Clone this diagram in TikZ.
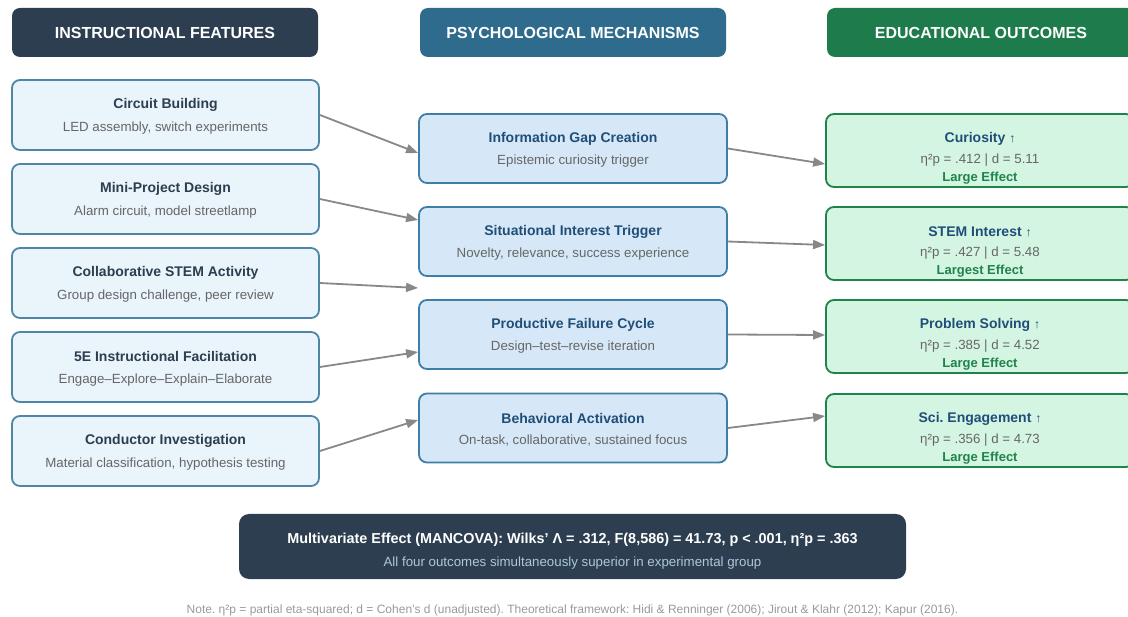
\documentclass[tikz,border=0pt]{standalone}
\usepackage{fontspec}
\setmainfont{Liberation Sans}
\frenchspacing
\usetikzlibrary{arrows.meta,calc}
\definecolor{navy}{HTML}{2C3E50}
\definecolor{steel}{HTML}{2E6B8C}
\definecolor{forest}{HTML}{1E7B4C}
\definecolor{lfill}{HTML}{EAF4FB}
\definecolor{lborder}{HTML}{4E86A8}
\definecolor{mfill}{HTML}{D6E8F7}
\definecolor{mborder}{HTML}{3F7EA6}
\definecolor{rfill}{HTML}{D5F5E3}
\definecolor{rborder}{HTML}{1E8449}
\definecolor{mtitle}{HTML}{1F4E79}
\definecolor{subgray}{HTML}{666666}
\definecolor{arrowgray}{HTML}{888888}
\definecolor{botsub}{HTML}{AEC6DC}
\definecolor{notegray}{HTML}{999999}
\begin{document}
\begin{tikzpicture}[x=1pt,y=-1pt,
  hdr/.style={rounded corners=8pt, minimum width=306pt, minimum height=49pt, text=white, font=\bfseries\fontsize{16}{18}\selectfont, inner sep=0pt},
  lbox/.style={draw=lborder, line width=1.8pt, fill=lfill, rounded corners=8pt, minimum width=307pt, minimum height=70pt, inner sep=0pt},
  mbox/.style={draw=mborder, line width=1.8pt, fill=mfill, rounded corners=8pt, minimum width=308pt, minimum height=69pt, inner sep=0pt},
  rbox/.style={draw=rborder, line width=1.8pt, fill=rfill, rounded corners=8pt, minimum width=308pt, minimum height=73pt, inner sep=0pt},
  ltitle/.style={font=\bfseries\fontsize{14}{16}\selectfont, text=navy, inner sep=0pt},
  mtitlest/.style={font=\bfseries\fontsize{14}{16}\selectfont, text=mtitle, inner sep=0pt},
  subt/.style={font=\fontsize{13.3}{15}\selectfont, text=subgray, inner sep=0pt},
  efft/.style={font=\bfseries\fontsize{13}{15}\selectfont, text=rborder, inner sep=0pt},
  conn/.style={draw=arrowgray, line width=1.8pt, -{Triangle[length=12pt,width=9pt]}}
]
\useasboundingbox (0,0) rectangle (1128,617);
\clip (0,0) rectangle (1128,617);

% headers
\node[hdr, fill=navy] (h1) at (165,32.5) {INSTRUCTIONAL FEATURES};
\node[hdr, fill=steel] (h2) at (573,32.5) {PSYCHOLOGICAL MECHANISMS};
\node[hdr, fill=forest, minimum width=308pt] (h3) at (981,32.5) {EDUCATIONAL OUTCOMES};

% left boxes
\foreach \n/\y/\t/\s in {l1/115/Circuit Building/{LED assembly, switch experiments},
  l2/199/Mini-Project Design/{Alarm circuit, model streetlamp},
  l3/283/Collaborative STEM Activity/{Group design challenge, peer review},
  l4/367/5E Instructional Facilitation/{Engage–Explore–Explain–Elaborate},
  l5/451/Conductor Investigation/{Material classification, hypothesis testing}}{
  \node[lbox] (\n) at (165.5,\y) {};
  \node[ltitle] (\n t) at ($(\n.center)+(0,-10.5)$) {\t};
  \node[subt] (\n s) at ($(\n.center)+(0,13.5)$) {\s};
}

% middle boxes
\foreach \n/\y/\t/\s in {m1/148.5/Information Gap Creation/{Epistemic curiosity trigger},
  m2/241.5/Situational Interest Trigger/{Novelty, relevance, success experience},
  m3/334.5/Productive Failure Cycle/{Design–test–revise iteration},
  m4/428/Behavioral Activation/{On-task, collaborative, sustained focus}}{
  \node[mbox] (\n) at (573,\y) {};
  \node[mtitlest] (\n t) at ($(\n.center)+(0,-10)$) {\t};
  \node[subt] (\n s) at ($(\n.center)+(0,13)$) {\s};
}

% right boxes
\foreach \n/\y/\t/\s/\e in {r1/150.5/Curiosity/{η²p = .412 | d = 5.11}/Large Effect,
  r2/243.5/STEM Interest/{η²p = .427 | d = 5.48}/Largest Effect,
  r3/336.5/Problem Solving/{η²p = .385 | d = 4.52}/Large Effect,
  r4/430.5/Sci. Engagement/{η²p = .356 | d = 4.73}/Large Effect}{
  \node[rbox] (\n) at (980,\y) {};
  \node[mtitlest] (\n t) at ($(\n.center)+(0,-12)$) {\t\ {\mdseries\fontsize{12}{13}\selectfont ↑}};
  \node[subt] (\n s) at ($(\n.center)+(0,9.5)$) {\s};
  \node[efft] (\n e) at ($(\n.center)+(0,27.5)$) {\e};
}

% connectors
\coordinate (gap) at ($(m2.west)!0.5!(m3.west)$);
\draw[conn] (l1.east) -- ($(m1.west)+(0,4.5)$);
\draw[conn] (l2.east) -- ($(m2.west)+(0,-21.5)$);
\draw[conn] (l3.east) -- (gap);
\draw[conn] (l4.east) -- ($(m3.west)+(0,17.5)$);
\draw[conn] (l5.east) -- ($(m4.west)+(0,-8)$);
\draw[conn] (m1.east) -- ($(r1.west)+(0,13.5)$);
\draw[conn] (m2.east) -- ($(r2.west)+(0,1.5)$);
\draw[conn] (m3.east) -- ($(r3.west)+(0,-1.5)$);
\draw[conn] (m4.east) -- ($(r4.west)+(0,-14.5)$);

% bottom summary
\node[fill=navy, rounded corners=10pt, minimum width=667pt, minimum height=65pt, inner sep=0pt] (sum) at (572.5,546.5) {};
\node[font=\bfseries\fontsize{14.4}{16}\selectfont, text=white, inner sep=0pt] (sumt) at ($(sum.center)+(0,-7)$) {Multivariate Effect (MANCOVA): Wilks' Λ = .312, F(8,586) = 41.73, p < .001, η²p = .363};
\node[font=\fontsize{13.3}{15}\selectfont, text=botsub, inner sep=0pt] (sums) at ($(sum.center)+(0,17)$) {All four outcomes simultaneously superior in experimental group};

% note
\node[font=\fontsize{12}{14}\selectfont, text=notegray, inner sep=0pt] (note) at (572.5,610) {Note. η²p = partial eta-squared; d = Cohen's d (unadjusted). Theoretical framework: Hidi \& Renninger (2006); Jirout \& Klahr (2012); Kapur (2016).};
\end{tikzpicture}
\end{document}
